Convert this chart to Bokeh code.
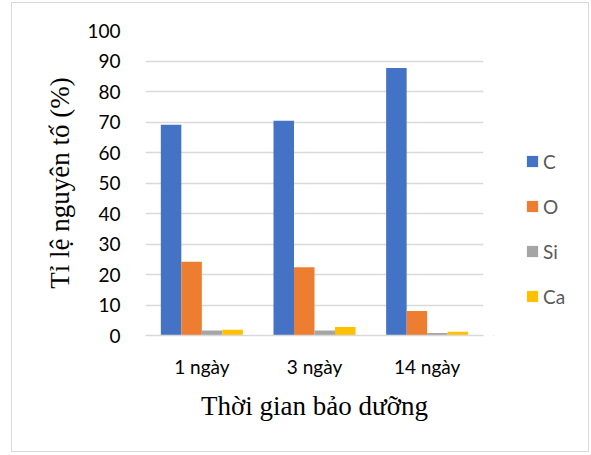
from bokeh.plotting import figure
from bokeh.models import ColumnDataSource, Range1d, Legend, LegendItem
from bokeh.layouts import row
from bokeh.transform import dodge
from bokeh.embed import file_html
from bokeh.resources import INLINE

categories = ["1 ngày", "3 ngày", "14 ngày"]
series_names = ["C", "O", "Si", "Ca"]
c_values = [69.1, 70.4, 87.7]
o_values = [24.2, 22.4, 8.0]
si_values = [1.6, 1.6, 0.8]
ca_values = [1.9, 2.8, 1.2]
colors = ["#4472C4", "#ED7D31", "#A5A5A5", "#FFC000"]

source = ColumnDataSource(data=dict(cat=categories, C=c_values, O=o_values, Si=si_values, Ca=ca_values))

main = figure(x_range=categories, y_range=Range1d(0, 100), width=481, height=448,
              output_backend="svg", toolbar_location=None,
              min_border_left=133, min_border_right=10, min_border_top=27, min_border_bottom=116)
main.outline_line_color = None
main.background_fill_color = "white"
main.border_fill_color = "white"

bw = 0.182
offsets = [-1.5 * bw, -0.5 * bw, 0.5 * bw, 1.5 * bw]
for name, off, col in zip(series_names, offsets, colors):
    main.vbar(x=dodge("cat", off, range=main.x_range), top=name, width=bw, source=source,
              fill_color=col, line_color=None)

main.xgrid.grid_line_color = None
main.ygrid.grid_line_color = "#d9d9d9"
main.ygrid.grid_line_width = 1.3

main.yaxis.ticker = list(range(0, 101, 10))
main.yaxis.axis_line_color = None
main.yaxis.major_tick_line_color = None
main.yaxis.minor_tick_line_color = None
main.yaxis.major_label_text_font = "Lato"
main.yaxis.major_label_text_font_size = "19px"
main.yaxis.major_label_text_color = "#000000"
main.yaxis.major_label_standoff = 19
main.yaxis.axis_label = "Tỉ lệ nguyên tố (%)"
main.yaxis.axis_label_text_font = "Liberation Serif"
main.yaxis.axis_label_text_font_size = "27px"
main.yaxis.axis_label_text_font_style = "normal"
main.yaxis.axis_label_text_color = "#000000"
main.yaxis.axis_label_standoff = 9

main.xaxis.axis_line_color = "#d9d9d9"
main.xaxis.axis_line_width = 1.3
main.xaxis.major_tick_line_color = None
main.xaxis.minor_tick_line_color = None
main.xaxis.major_label_text_font = "Lato"
main.xaxis.major_label_text_font_size = "19px"
main.xaxis.major_label_text_color = "#000000"
main.xaxis.major_label_standoff = 13
main.xaxis.axis_label = "Thời gian bảo dưỡng"
main.xaxis.axis_label_text_font = "Liberation Serif"
main.xaxis.axis_label_text_font_size = "27px"
main.xaxis.axis_label_text_font_style = "normal"
main.xaxis.axis_label_text_color = "#000000"
main.xaxis.axis_label_standoff = 10

leg = figure(width=95, height=448, output_backend="svg", toolbar_location=None,
             x_range=Range1d(0, 1), y_range=Range1d(0, 1), min_border=0)
leg.axis.visible = False
leg.grid.visible = False
leg.outline_line_color = None
leg.background_fill_color = "white"
leg.border_fill_color = "white"
swatches = [leg.vbar(x=[-5], top=[-5], bottom=[-5], width=0.1, fill_color=col, line_color=None)
            for col in colors]

legend = Legend(items=[LegendItem(label=n, renderers=[r]) for n, r in zip(series_names, swatches)],
                location=(32, 27), orientation="vertical",
                glyph_width=14, glyph_height=14, label_height=24, spacing=21,
                label_text_font="Lato", label_text_font_size="19px", label_text_color="#595959",
                label_standoff=4, padding=0, margin=0, border_line_color=None,
                background_fill_alpha=0)
leg.add_layout(legend, "center")

p = row(main, leg)
p.styles = {"border": "1px solid #d9d9d9", "margin-left": "11px", "margin-top": "2px"}

open("out.html", "w").write(file_html(p, INLINE))
